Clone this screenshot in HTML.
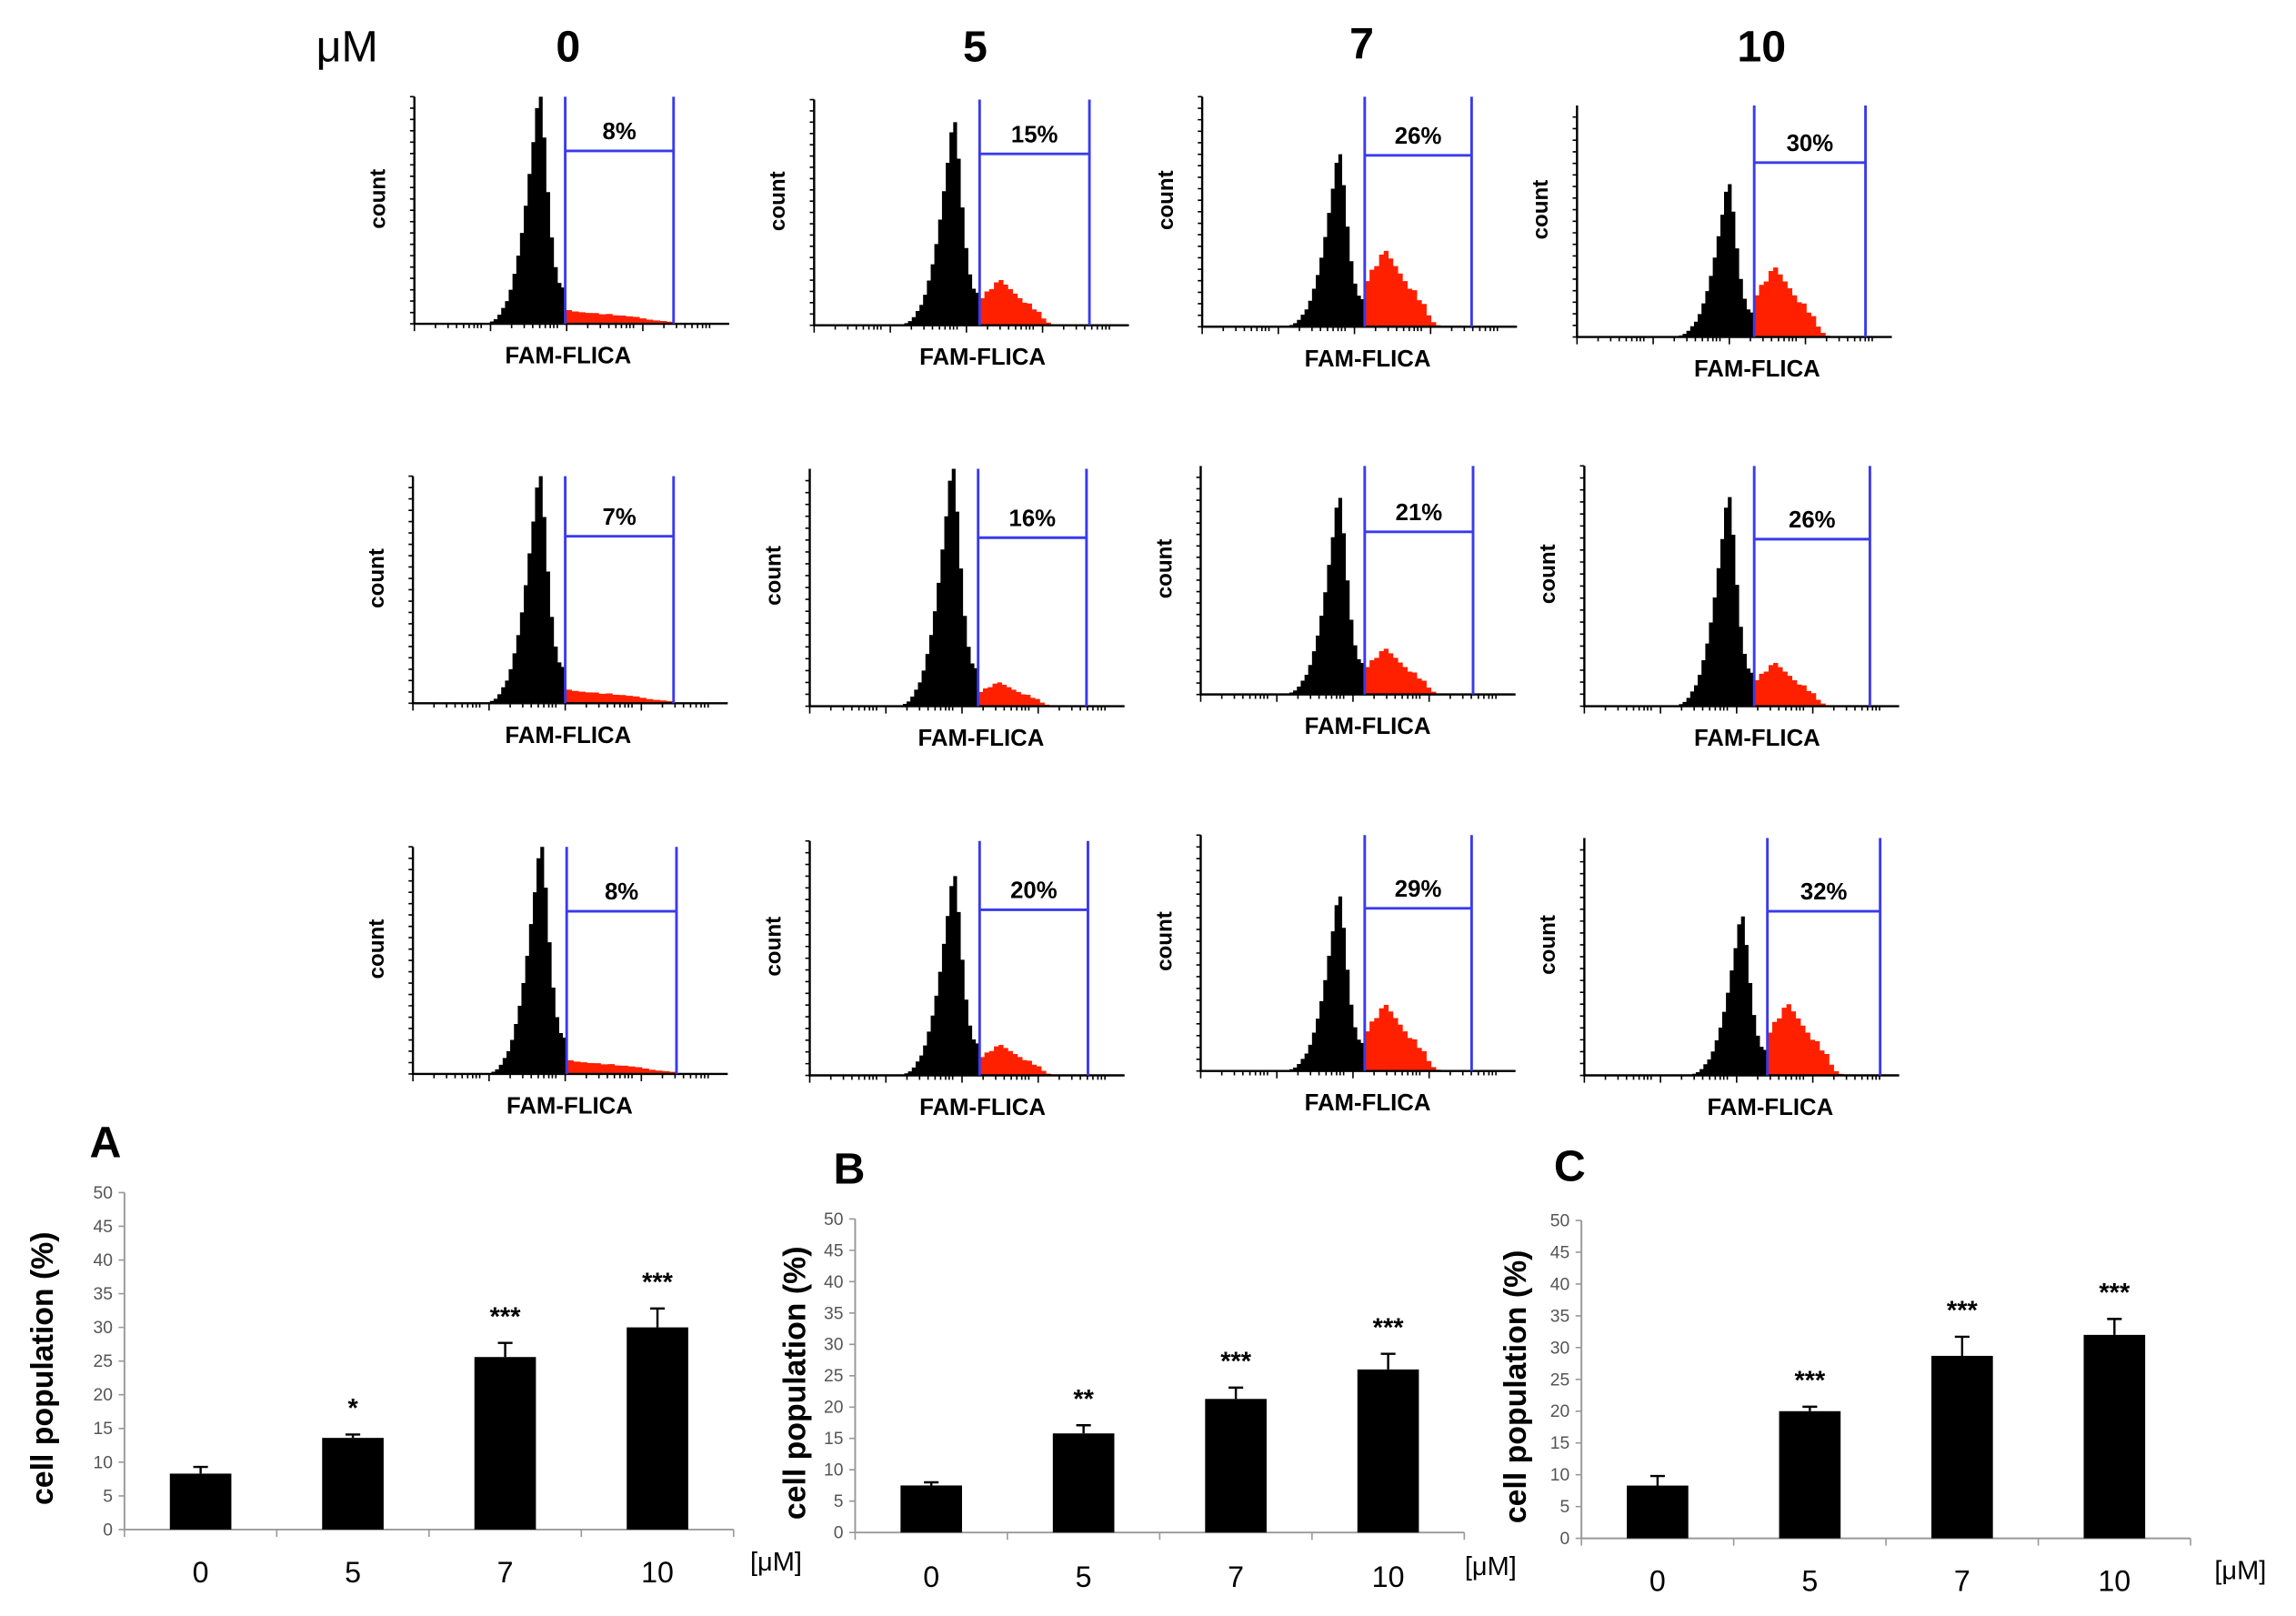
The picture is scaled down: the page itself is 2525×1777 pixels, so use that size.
<!DOCTYPE html>
<html><head><meta charset="utf-8">
<style>
html,body{margin:0;padding:0;background:#fff;}
svg{display:block;}
text{font-family:"Liberation Sans",Arial,sans-serif;}
</style></head>
<body>
<svg id="fig" xmlns="http://www.w3.org/2000/svg" width="2525" height="1777" viewBox="0 0 1568 1103" preserveAspectRatio="none">
  <rect width="1568" height="1103" fill="#fff"/>
  <g font-weight="bold" font-size="30" text-anchor="middle">
    <text x="237" y="42" font-weight="normal" font-size="30">μM</text>
    <text x="388" y="42">0</text>
    <text x="666" y="42">5</text>
    <text x="930" y="40">7</text>
    <text x="1203" y="42">10</text>
  </g>
  <g id="hists"></g>
  <g id="bars"></g>
</svg>
<script>
// ---------- histogram data ----------
const histPercent = [["8%","15%","26%","30%"],["7%","16%","21%","26%"],["8%","20%","29%","32%"]];
const blackPeak = [[1.0,0.9,0.75,0.66],[1.0,1.0,0.86,0.87],[1.0,0.85,0.74,0.67]];
const redPeak = [[0.06,0.2,0.33,0.3],[0.06,0.1,0.2,0.18],[0.06,0.13,0.28,0.3]];
const blackShape = [0,0.01,0.02,0.04,0.07,0.1,0.15,0.22,0.3,0.4,0.52,0.66,0.8,0.95,1.0,0.82,0.58,0.38,0.25,0.18,0.16];
const redShapeFlat = [1,0.9,0.85,0.8,0.78,0.7,0.72,0.62,0.6,0.55,0.5,0.4,0.3,0.25,0.2,0.15];
const redShapeBump = [0.6,0.75,0.8,0.95,1.0,0.9,0.8,0.7,0.6,0.5,0.48,0.35,0.3,0.15,0.06,0.02];
// layout (displayed px)
const panelAxisX = [[283,556,821,1077],[282,553,820,1082],[282,553,820,1082]];
const panelTop = [[66,68,66,72],[325,320,318,318],[578,574,570,572]];
const panelBase = [[221,222,223,230],[480,482,474,482],[733,734,731,734]];
const gate1 = [[386,669,932,1198],[386,668,932,1198],[387,669,932,1207]];
const gate2 = [[460,744,1005,1274],[460,742,1006,1277],[462,743,1005,1284]];
const gateH = [[103,105,106,111],[366,367,363,368],[622,621,620,622]];

const NS="http://www.w3.org/2000/svg";
function mk(tag,attrs,parent){const e=document.createElementNS(NS,tag);for(const k in attrs)e.setAttribute(k,attrs[k]);parent.appendChild(e);return e;}
const H=document.getElementById('hists');
for(let r=0;r<3;r++)for(let c=0;c<4;c++){
  const g=mk('g',{},H);
  
  
  const ax=panelAxisX[r][c],top=panelTop[r][c],base=panelBase[r][c],g1=gate1[r][c],g2=gate2[r][c],ph=base-top;
  const right=ax+215;
  const bwid=54,bw=bwid/blackShape.length;let pts=[[g1-bwid,base]];
  blackShape.forEach((v,i)=>{const x=g1-bwid+i*bw,y=base-v*blackPeak[r][c]*ph;pts.push([x,y],[x+bw,y]);});
  pts.push([g1,base]);
  const bp=mk('polygon',{points:pts.map(p=>p.map(n=>n.toFixed(1)).join(',')).join(' '),fill:'#000'},g);
  
  const rs=c===0?redShapeFlat:redShapeBump;const span=c===0?(g2-g1):52;const rw=span/rs.length;
  pts=[[g1,base]];
  rs.forEach((v,i)=>{const x=g1+i*rw,y=base-v*redPeak[r][c]*ph;pts.push([x,y],[x+rw,y]);});
  pts.push([g1+span,base]);
  const rp=mk('polygon',{points:pts.map(p=>p.map(n=>n.toFixed(1)).join(',')).join(' '),fill:'#ff2000'},g);
  
  const a=mk('path',{d:`M${ax},${top} V${base} H${right}`,stroke:'#000','stroke-width':1.5,fill:'none'},g);
  
  let tk='';for(let y=base;y>=top;y-=ph/20)tk+=`M${ax-3},${y.toFixed(1)}H${ax}`;
  const dec=[0,0.3,0.48,0.6,0.7,0.78,0.85,0.9,0.95];
  for(let d=0;d<4;d++)dec.forEach((f,i)=>{const x=ax+d*52+f*48;tk+=`M${x.toFixed(1)},${base}V${base+(i===0?5:3)}`;});
  const t=mk('path',{d:tk,stroke:'#000','stroke-width':1,fill:'none'},g);
  
  const gp=mk('path',{d:`M${g1},${top}V${base}M${g2},${top}V${base}M${g1},${gateH[r][c]}H${g2}`,stroke:'#3a3aee','stroke-width':1.8,fill:'none'},g);
  
  const pt=mk('text',{x:(g1+g2)/2,y:gateH[r][c]-8,'font-size':16,'font-weight':'bold','text-anchor':'middle'},g);pt.textContent=histPercent[r][c];
  
  const cl=mk('text',{x:0,y:0,'font-size':15,'font-weight':'bold','text-anchor':'middle',transform:`translate(${ax-20},${top+ph*0.45}) rotate(-90)`},g);cl.textContent='count';
  
  const xl=mk('text',{x:g1+2,y:base+27,'font-size':16,'font-weight':'bold','text-anchor':'middle'},g);xl.textContent='FAM-FLICA';
  
}

// ---------- bar chart data ----------
const categories = ["0","5","7","10"];
const yTicks = ["0","5","10","15","20","25","30","35","40","45","50"];
const valuesA = [8.3,13.6,25.6,30.0];
const errorsA = [1.0,0.5,2.1,2.8];
const starsA = ["","*","***","***"];
const valuesB = [7.5,15.8,21.3,26.0];
const errorsB = [0.5,1.3,1.8,2.5];
const starsB = ["","**","***","***"];
const valuesC = [8.3,20.0,28.7,32.0];
const errorsC = [1.5,0.7,3.0,2.5];
const starsC = ["","***","***","***"];

const charts=[
  {id:'A',vals:valuesA,errs:errorsA,stars:starsA,ax:85,y0:1044,y50:814,letterX:72,letterY:790,unitX:530,labY:1080,titleX:36},
  {id:'B',vals:valuesB,errs:errorsB,stars:starsB,ax:584,y0:1046,y50:832,letterX:580,letterY:808,unitX:1018,labY:1083,titleX:550},
  {id:'C',vals:valuesC,errs:errorsC,stars:starsC,ax:1080,y0:1050,y50:833,letterX:1072,letterY:806,unitX:1530,labY:1086,titleX:1042}
];
const B=document.getElementById('bars');
charts.forEach(ch=>{
  const g=mk('g',{},B);
  
  
  const yS=v=>ch.y0-(v/50)*(ch.y0-ch.y50);
  const step=104,xS=i=>ch.ax+step/2+i*step;
  const L=mk('text',{x:ch.letterX,y:ch.letterY,'font-size':30,'font-weight':'bold','text-anchor':'middle'},g);L.textContent=ch.id;
  
  const axp=mk('path',{d:`M${ch.ax},${ch.y50}V${ch.y0}H${ch.ax+4*step}`,stroke:'#999','stroke-width':1.2,fill:'none'},g);
  
  let tk='';yTicks.forEach(t=>{const y=yS(+t);tk+=`M${ch.ax-4},${y}H${ch.ax}`;});
  for(let i=0;i<=4;i++)tk+=`M${ch.ax+i*step},${ch.y0}V${ch.y0+5}`;
  const tp=mk('path',{d:tk,stroke:'#999','stroke-width':1},g);
  
  yTicks.forEach(t=>{const e=mk('text',{x:ch.ax-8,y:yS(+t)+4,'font-size':12,fill:'#555','text-anchor':'end'},g);e.textContent=t;
    });
  ch.vals.forEach((v,i)=>{
    const x=xS(i),y=yS(v);
    const r=mk('rect',{x:x-21,y:y,width:42,height:ch.y0-y,fill:'#000'},g);
    
    const ey=yS(v+ch.errs[i]);
    const e=mk('path',{d:`M${x},${y}V${ey}M${x-5},${ey}H${x+5}`,stroke:'#000','stroke-width':1.5},g);
    
    if(ch.stars[i]){const s=mk('text',{x:x,y:ey-12,'font-size':18,'font-weight':'bold','text-anchor':'middle'},g);s.textContent=ch.stars[i];
      }
    const c=mk('text',{x:x,y:ch.labY,'font-size':20,'text-anchor':'middle'},g);c.textContent=categories[i];
    
  });
  const u=mk('text',{x:ch.unitX,y:ch.labY-8,'font-size':18,'text-anchor':'middle'},g);u.textContent='[μM]';
  
  const yt=mk('text',{x:0,y:0,'font-size':21,'font-weight':'bold','text-anchor':'middle',transform:`translate(${ch.titleX},${(ch.y0+ch.y50)/2+5}) rotate(-90)`},g);yt.textContent='cell population (%)';
  
});
</script>
</body></html>
